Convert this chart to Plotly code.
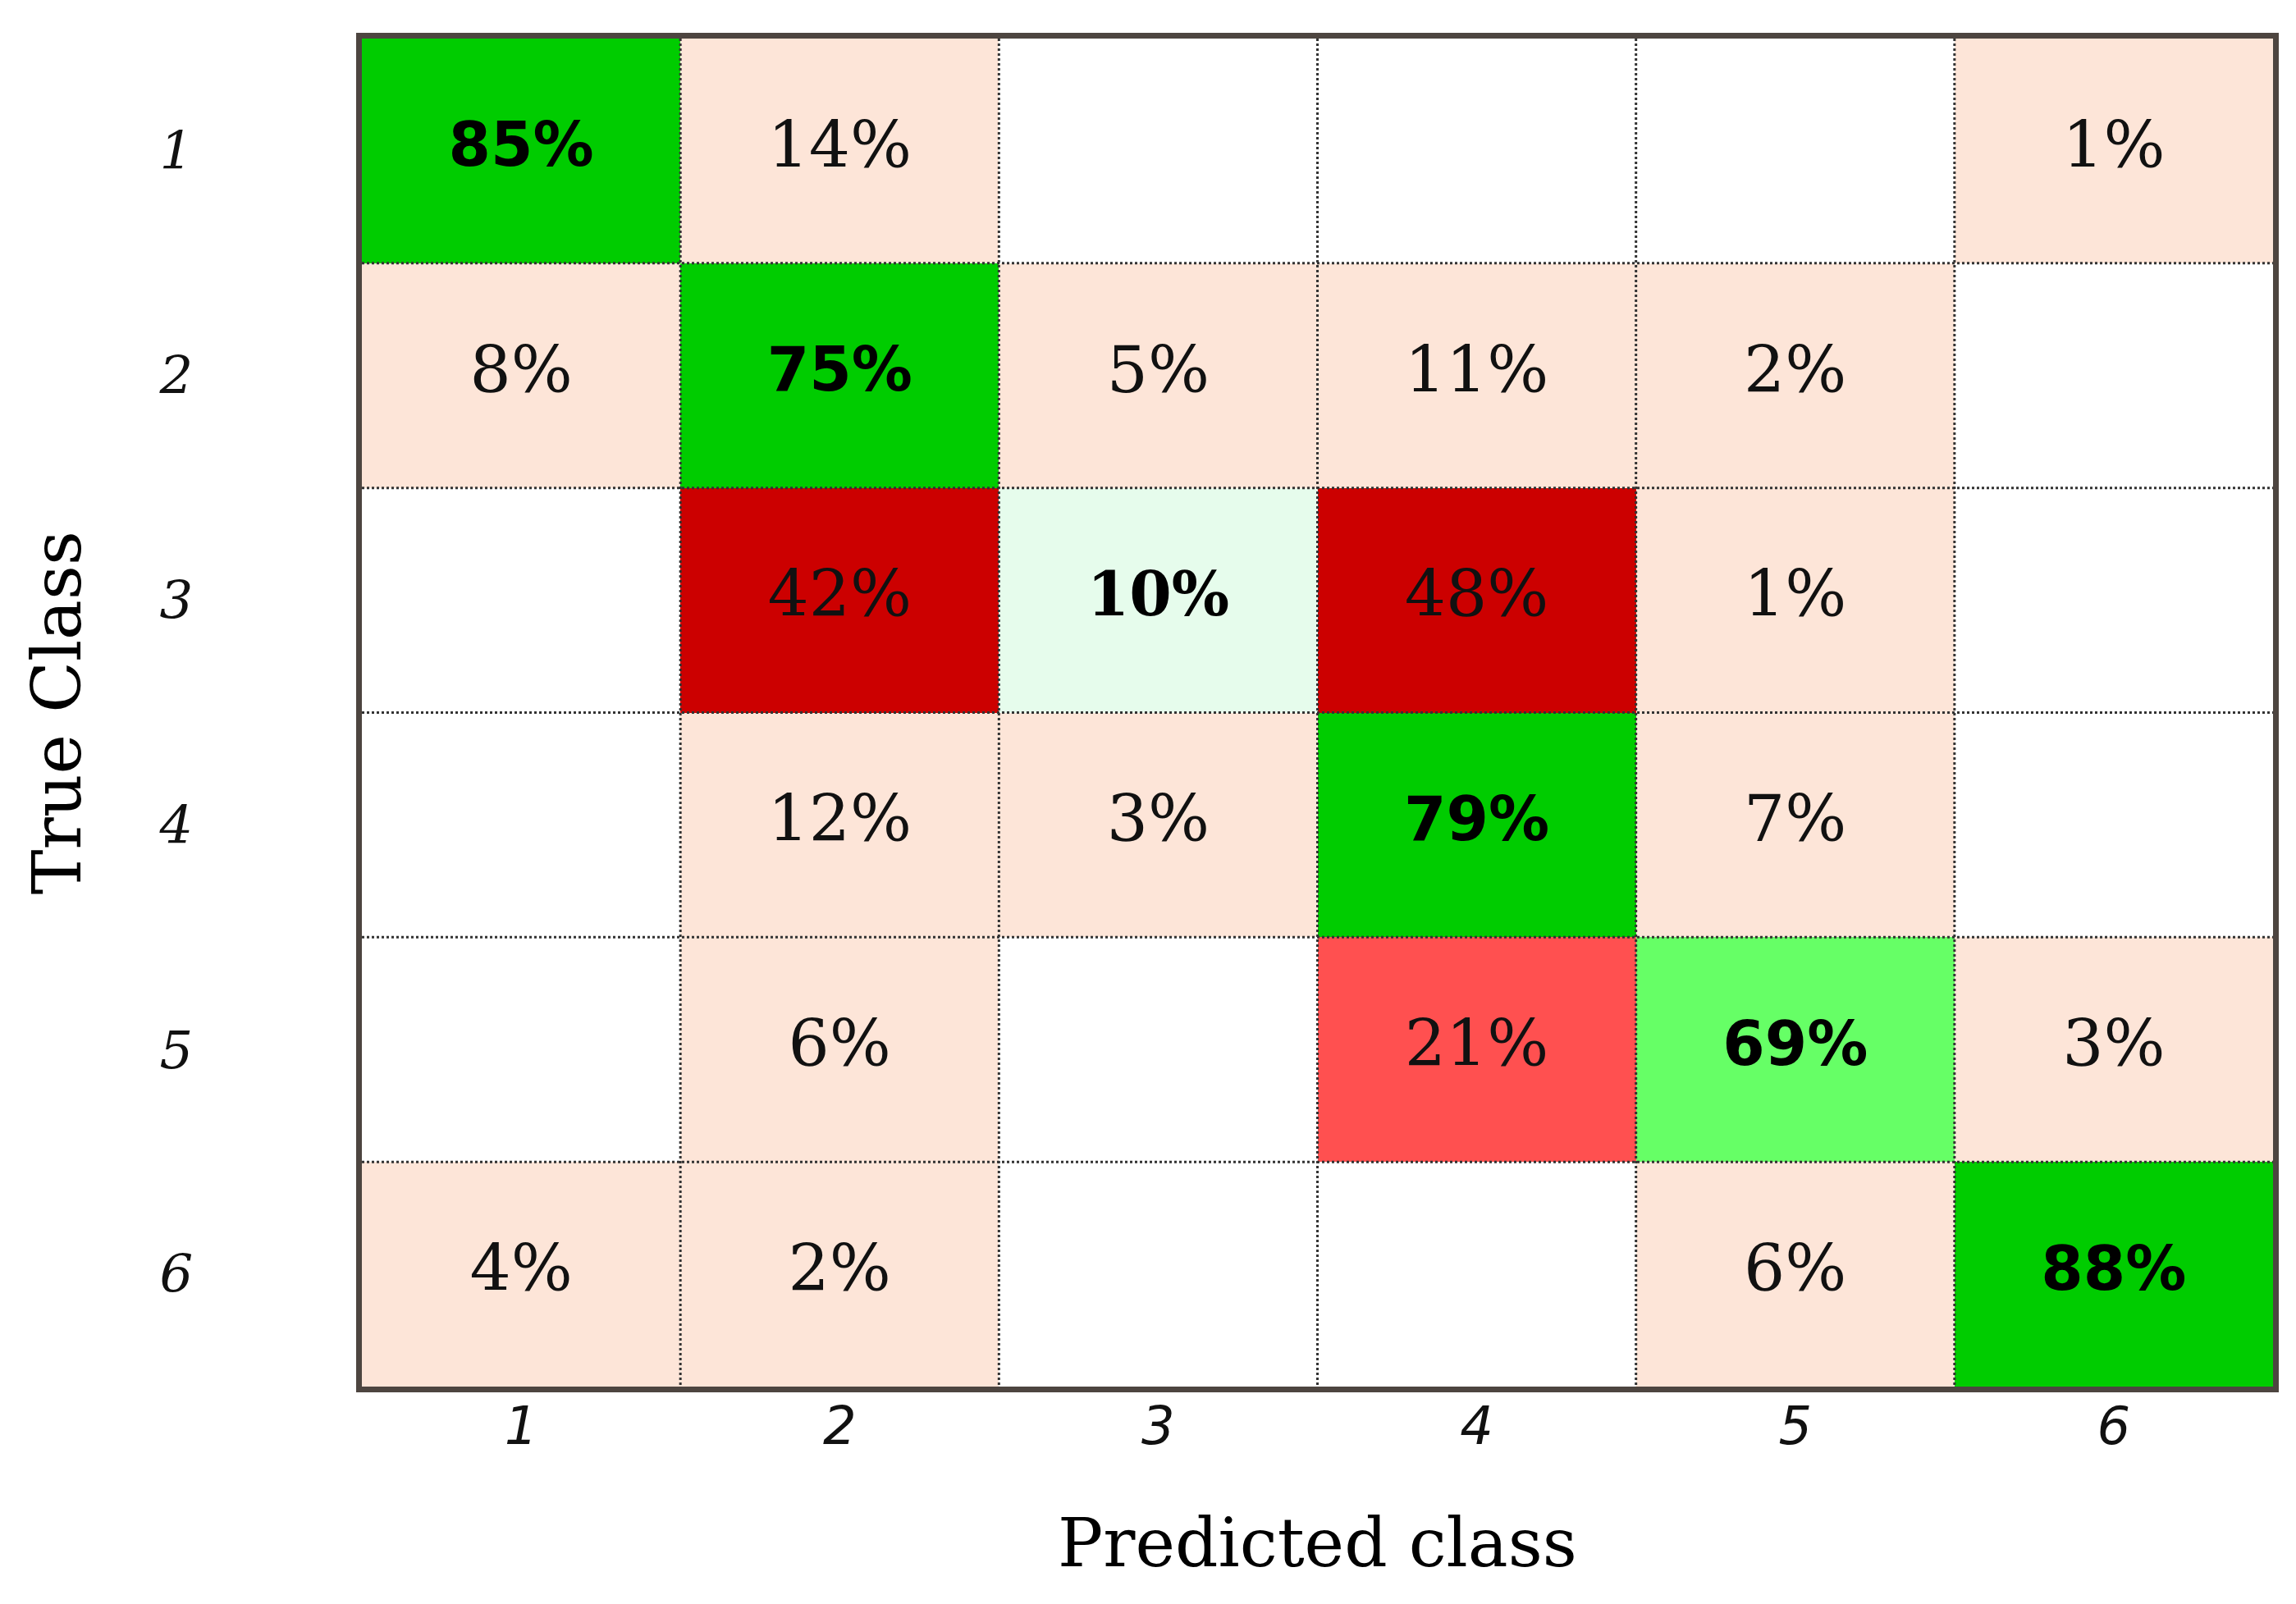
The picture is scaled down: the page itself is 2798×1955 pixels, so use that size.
import plotly.graph_objects as go

classes = ["1", "2", "3", "4", "5", "6"]
# rows = true class 1..6, columns = predicted class 1..6 (percent); None = empty cell
row_1 = [85, 14, None, None, None, 1]
row_2 = [8, 75, 5, 11, 2, None]
row_3 = [None, 42, 10, 48, 1, None]
row_4 = [None, 12, 3, 79, 7, None]
row_5 = [None, 6, None, 21, 69, 3]
row_6 = [4, 2, None, None, 6, 88]
matrix = [row_1, row_2, row_3, row_4, row_5, row_6]

x_title = "Predicted class"
y_title = "True Class"

# colour categories
palette = ["#FFFFFF", "#FDE5D8", "#FF5050", "#CC0000", "#E6FCEC", "#66FF66", "#00CC00"]


def category(v, diag):
    if v is None:
        return 0
    if diag:
        if v >= 70:
            return 6
        if v >= 50:
            return 5
        return 4
    if v < 20:
        return 1
    if v < 40:
        return 2
    return 3


n = len(classes)
pos = list(range(1, n + 1))
z = [[category(matrix[r][c], r == c) for c in range(n)] for r in range(n)]

colorscale = []
k = len(palette)
for i, col in enumerate(palette):
    colorscale.append([i / k, col])
    colorscale.append([(i + 1) / k, col])

fig = go.Figure()
fig.add_trace(go.Heatmap(
    x=pos, y=pos, z=z, zmin=-0.5, zmax=k - 0.5,
    colorscale=colorscale, showscale=False, hoverinfo="skip",
))

# dotted grid lines between cells
gx, gy = [], []
for i in range(1, n):
    b = i + 0.5
    gx += [b, b, None]
    gy += [0.5, n + 0.5, None]
    gx += [0.5, n + 0.5, None]
    gy += [b, b, None]
fig.add_trace(go.Scatter(x=gx, y=gy, mode="lines",
                         line=dict(color="#333333", width=3, dash="dot"),
                         hoverinfo="skip", showlegend=False))

groups = {"off": ([], [], []), "strong": ([], [], []), "weak": ([], [], [])}
for r in range(n):
    for c in range(n):
        v = matrix[r][c]
        if v is None:
            continue
        if r == c:
            g = "strong" if v >= 50 else "weak"
        else:
            g = "off"
        groups[g][0].append(pos[c])
        groups[g][1].append(pos[r])
        groups[g][2].append(f"{v}%")

fonts = {
    "off": dict(family="DejaVu Serif", size=79, color="#111111"),
    "strong": dict(family="DejaVu Sans", size=74, color="#000000", weight="bold"),
    "weak": dict(family="DejaVu Serif", size=74, color="#000000", weight="bold"),
}
for g, (xs, ys, ts) in groups.items():
    fig.add_trace(go.Scatter(x=xs, y=ys, text=ts, mode="text",
                             textposition="middle center", textfont=fonts[g],
                             hoverinfo="skip", showlegend=False))

fig.update_layout(
    width=2798, height=1955,
    margin=dict(l=433, r=36, t=39, b=273),
    paper_bgcolor="white", plot_bgcolor="white",
    showlegend=False,
    xaxis=dict(
        range=[0.5, n + 0.5], tickvals=pos, ticktext=classes,
        tickfont=dict(family="DejaVu Sans", size=64, color="#111111", style="italic"),
        showgrid=False, zeroline=False, ticks="", ticklen=0, ticklabelstandoff=-14,
        showline=True, mirror=True, linecolor="#4d4540", linewidth=7,
        title=dict(text=x_title, standoff=80,
                   font=dict(family="DejaVu Serif", size=82, color="#000000")),
        automargin=False, fixedrange=True,
    ),
    yaxis=dict(
        range=[n + 0.5, 0.5], tickvals=pos, ticktext=classes,
        tickfont=dict(family="DejaVu Serif", size=64, color="#111111", style="italic"),
        showgrid=False, zeroline=False, ticks="", ticklen=0, ticklabelstandoff=186,
        showline=True, mirror=True, linecolor="#4d4540", linewidth=7,
        title=dict(text=y_title, standoff=70,
                   font=dict(family="DejaVu Serif", size=82, color="#000000")),
        automargin=False, fixedrange=True,
    ),
)

fig.write_html("out.html")
